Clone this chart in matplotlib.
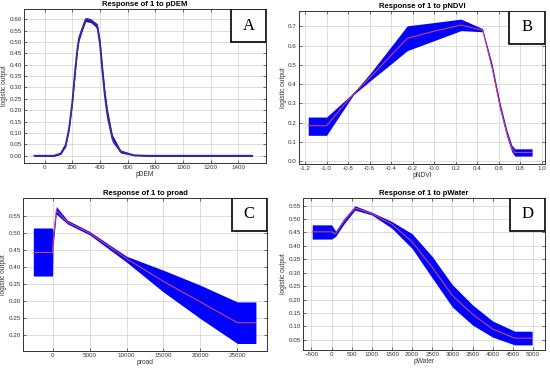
import numpy as np
import matplotlib.pyplot as plt
from matplotlib.patches import Rectangle

plt.rcParams['font.family'] = ['Liberation Sans', 'DejaVu Sans']

# panel A - pDEM
dem_x = [-75, 67, 116, 152, 176, 200, 219, 236, 248, 272, 296, 333, 369, 380, 400, 417, 434, 453, 489, 549, 646, 750, 1500]
dem_mean = [0, 0, 0.01, 0.048, 0.12, 0.24, 0.37, 0.47, 0.518, 0.56, 0.60, 0.594, 0.576, 0.569, 0.488, 0.37, 0.267, 0.179, 0.076, 0.018, 0.002, 0, 0]
dem_low = [-0.003, -0.003, 0.006, 0.04, 0.11, 0.225, 0.35, 0.455, 0.505, 0.55, 0.59, 0.585, 0.566, 0.55, 0.46, 0.34, 0.24, 0.155, 0.06, 0.012, 0.0, -0.003, -0.003]
dem_up = [0.003, 0.003, 0.014, 0.056, 0.13, 0.255, 0.39, 0.485, 0.53, 0.57, 0.608, 0.602, 0.585, 0.58, 0.51, 0.40, 0.295, 0.205, 0.092, 0.025, 0.005, 0.003, 0.003]

# panel B - pNDVI
ndvi_x = [-1.17, -1.0, -0.75, -0.6, -0.4, -0.25, 0.0, 0.25, 0.45, 0.537, 0.614, 0.676, 0.722, 0.75, 0.91]
ndvi_mean = [0.184, 0.184, 0.35, 0.432, 0.55, 0.638, 0.675, 0.707, 0.68, 0.49, 0.28, 0.143, 0.066, 0.045, 0.045]
ndvi_low = [0.134, 0.134, 0.345, 0.415, 0.505, 0.574, 0.626, 0.678, 0.672, 0.472, 0.262, 0.125, 0.048, 0.026, 0.026]
ndvi_up = [0.229, 0.229, 0.355, 0.452, 0.595, 0.703, 0.72, 0.738, 0.688, 0.508, 0.298, 0.16, 0.082, 0.064, 0.064]

# panel C - proad
road_x = [-2600, 0, 60, 500, 2000, 5000, 10000, 15000, 20000, 25000, 27500]
road_mean = [0.443, 0.443, 0.47, 0.567, 0.532, 0.50, 0.425, 0.358, 0.298, 0.237, 0.237]
road_low = [0.374, 0.374, 0.46, 0.556, 0.527, 0.495, 0.415, 0.327, 0.249, 0.176, 0.176]
road_up = [0.515, 0.515, 0.50, 0.578, 0.538, 0.505, 0.432, 0.391, 0.347, 0.298, 0.298]

# panel D - pWater
water_x = [-480, 0, 100, 300, 580, 1000, 1500, 2000, 2500, 3000, 3500, 4000, 4550, 4980]
water_mean = [0.452, 0.452, 0.445, 0.49, 0.541, 0.52, 0.48, 0.415, 0.32, 0.215, 0.145, 0.09, 0.056, 0.056]
water_low = [0.425, 0.425, 0.435, 0.48, 0.533, 0.515, 0.465, 0.39, 0.28, 0.172, 0.105, 0.06, 0.031, 0.031]
water_up = [0.478, 0.478, 0.455, 0.50, 0.549, 0.525, 0.49, 0.445, 0.36, 0.255, 0.18, 0.12, 0.082, 0.082]

W, H = 550, 371
fig = plt.figure(figsize=(5.5, 3.71), dpi=100)

def add_ax(l, r, t, b):
    return fig.add_axes([l / W, 1 - b / H, (r - l) / W, (b - t) / H])

def panel(ax, x, m, lo, up, name, letter, line_col='#d04070', lw=0.8):
    ax.fill_between(x, lo, up, color='#0000ff', lw=0)
    ax.plot(x, m, color=line_col, lw=lw)
    ax.grid(True, color='#d8d8d8', lw=0.6)
    ax.set_axisbelow(True)
    ax.tick_params(direction='in', length=2, width=0.5, labelsize=4.5, pad=1.5,
                   top=True, right=True, colors='#333333')
    for s in ax.spines.values():
        s.set_color('#333333')
        s.set_linewidth(0.7)
    ax.set_title('Response of 1 to ' + name, fontsize=5.5, fontweight='bold', pad=2)
    ax.set_xlabel(name, fontsize=4.8, labelpad=1, color='#333333')
    ax.set_ylabel('logistic output', fontsize=4.8, labelpad=1, color='#333333')
    ax.add_patch(Rectangle((0.855, 0.785), 0.145, 0.215, transform=ax.transAxes,
                           facecolor='white', edgecolor='black', lw=1.2, zorder=5))
    ax.text(0.9275, 0.8925, letter, transform=ax.transAxes, ha='center', va='center',
            fontsize=12, family=['Liberation Serif', 'DejaVu Serif'], zorder=6)

axA = add_ax(24, 266, 9, 163)
panel(axA, dem_x, dem_mean, dem_low, dem_up, 'pDEM', 'A', line_col='#44288a', lw=1.3)
axA.set_xlim(-150, 1600)
axA.set_ylim(-0.032, 0.645)
axA.set_xticks(np.arange(0, 1401, 200))
axA.set_yticks(np.arange(0, 0.601, 0.05))
axA.yaxis.set_major_formatter(plt.FormatStrFormatter('%.2f'))

axB = add_ax(299, 545, 11, 164)
panel(axB, ndvi_x, ndvi_mean, ndvi_low, ndvi_up, 'pNDVI', 'B')
axB.set_xlim(-1.256, 1.03)
axB.set_ylim(-0.015, 0.78)
axB.set_xticks(np.arange(-1.2, 1.01, 0.2))
axB.set_xticklabels(['-1.2', '-1.0', '-0.8', '-0.6', '-0.4', '-0.2', '-0.0', '0.2', '0.4', '0.6', '0.8', '1.0'])
axB.set_yticks(np.arange(0, 0.71, 0.1))
axB.yaxis.set_major_formatter(plt.FormatStrFormatter('%.1f'))

axC = add_ax(23, 267, 198, 351)
panel(axC, road_x, road_mean, road_low, road_up, 'proad', 'C')
axC.set_xlim(-4000, 29000)
axC.set_ylim(0.154, 0.603)
axC.set_xticks(np.arange(0, 25001, 5000))
axC.set_yticks(np.arange(0.2, 0.551, 0.05))
axC.yaxis.set_major_formatter(plt.FormatStrFormatter('%.2f'))

axD = add_ax(303, 545, 198, 350)
panel(axD, water_x, water_mean, water_low, water_up, 'pWater', 'D')
axD.set_xlim(-710, 5300)
axD.set_ylim(0.012, 0.578)
axD.set_xticks(np.arange(-500, 5001, 500))
axD.set_yticks(np.arange(0.05, 0.551, 0.05))
axD.yaxis.set_major_formatter(plt.FormatStrFormatter('%.2f'))

fig.savefig('out.png', dpi=100, facecolor='white')
